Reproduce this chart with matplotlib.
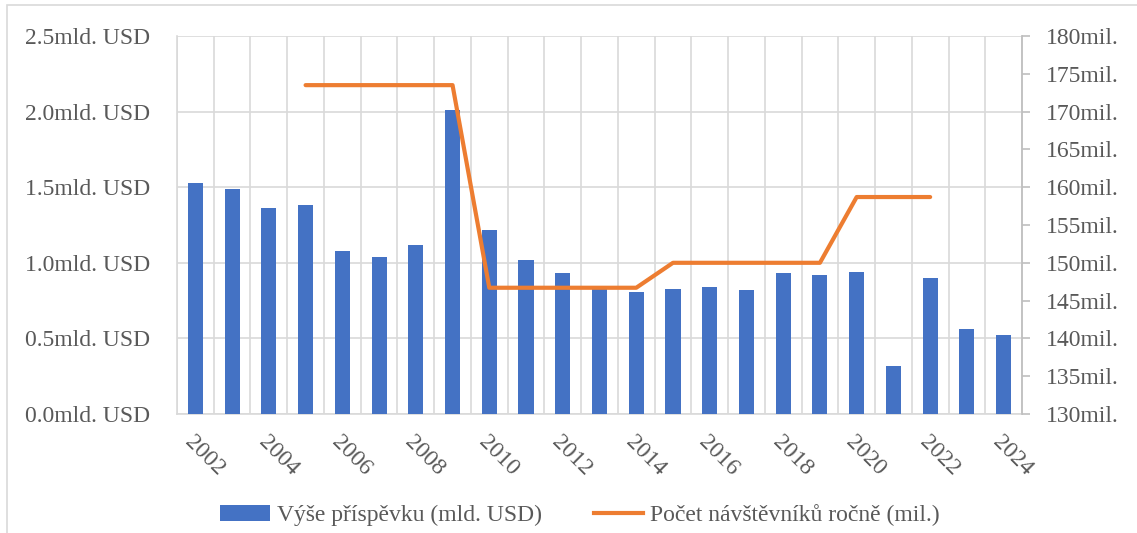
import matplotlib
matplotlib.use("Agg")
import matplotlib.pyplot as plt
from matplotlib.lines import Line2D
from matplotlib.patches import Patch, Rectangle
import numpy as np

years = list(range(2002, 2025))
contrib = [1.53, 1.49, 1.36, 1.38, 1.08, 1.04, 1.12, 2.01, 1.22, 1.02, 0.93, 0.84, 0.81,
           0.83, 0.84, 0.82, 0.93, 0.92, 0.94, 0.32, 0.90, 0.56, 0.52]
visitors = [None, None, None, 173.5, 173.5, 173.5, 173.5, 173.5, 146.7, 146.7, 146.7, 146.7, 146.7,
            150.0, 150.0, 150.0, 150.0, 150.0, 158.7, 158.7, 158.7, None, None]
left_ticks = [0.0, 0.5, 1.0, 1.5, 2.0, 2.5]
right_ticks = list(range(130, 181, 5))
bar_label = "Výše příspěvku (mld. USD)"
line_label = "Počet návštěvníků ročně (mil.)"

plt.rcParams['font.family'] = ['Liberation Serif', 'DejaVu Serif']
txt = '#595959'
grid = '#d9d9d9'
fs = 17

fig = plt.figure(figsize=(11.37, 5.33), dpi=100)
fig.patches.append(Rectangle((0.006, -0.1), 1.2, 1.09, transform=fig.transFigure,
                             fill=False, edgecolor=grid, linewidth=1.2))
ax = fig.add_axes([177/1137, 1-414/533, (1022-177)/1137, (414-36)/533])
x = np.arange(len(years))
ax.bar(x, contrib, width=0.41, color='#4472c4', zorder=3)
ax.set_xlim(-0.5, len(years)-0.5)
ax.set_ylim(0, 2.5)
ax.set_yticks(left_ticks)
ax.set_yticklabels([f"{v:.1f}mld. USD" for v in left_ticks])
ax.set_xticks(x[::2])
ax.set_xticklabels([str(y) for y in years[::2]], rotation=-45, ha='left', va='top',
                   rotation_mode='anchor')
ax.set_xticks(np.arange(-0.5, len(years)), minor=True)
ax.grid(True, which='minor', axis='x', color=grid, linewidth=1.2, zorder=0)
ax.grid(True, which='major', axis='y', color=grid, linewidth=1.2, zorder=0)
ax.tick_params(axis='both', which='both', length=0, colors=txt, labelsize=fs)
ax.tick_params(axis='y', pad=19)
ax.tick_params(axis='x', pad=13)
ax.spines['top'].set_visible(False)
for s in ['left', 'bottom', 'right']:
    ax.spines[s].set_color(grid)
    ax.spines[s].set_linewidth(1.2)

ax2 = ax.twinx()
vx = [xi for xi, v in zip(x, visitors) if v is not None]
vy = [v for v in visitors if v is not None]
ax2.plot(vx, vy, color='#ed7d31', linewidth=3, zorder=4, solid_capstyle='round')
ax2.set_ylim(130, 180)
ax2.set_yticks(right_ticks)
ax2.set_yticklabels([f"{v}mil." for v in right_ticks])
ax2.tick_params(axis='y', length=6, width=1.2, colors=txt, labelsize=fs, pad=11)
ax2.tick_params(axis='y', color='#bfbfbf')
for s in ['top', 'left', 'bottom']:
    ax2.spines[s].set_visible(False)
ax2.spines['right'].set_color('#bfbfbf')
ax2.spines['right'].set_linewidth(1.2)

handles = [Patch(facecolor='#4472c4', label=bar_label),
           Line2D([0], [0], color='#ed7d31', linewidth=3, label=line_label)]
fig.legend(handles=handles, loc='center', bbox_to_anchor=(0.51, 0.033), ncol=2,
           frameon=False, fontsize=fs, labelcolor=txt, handlelength=2.1,
           columnspacing=2.2, handletextpad=0.3)

fig.savefig('out.png', dpi=100)
